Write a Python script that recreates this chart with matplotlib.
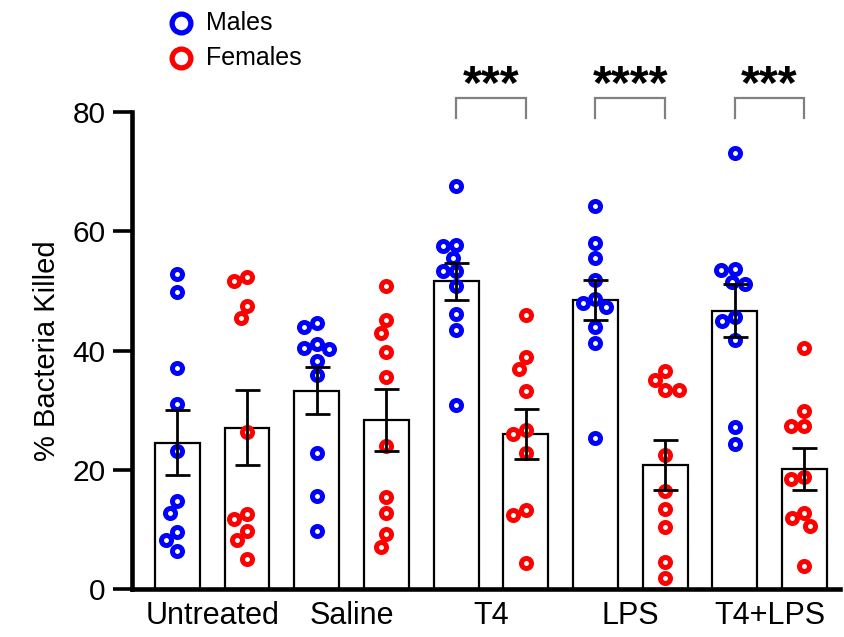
import numpy as np
import matplotlib
matplotlib.use("Agg")
import matplotlib.pyplot as plt

plt.rcParams['font.family'] = ['Liberation Sans', 'DejaVu Sans']

groups = ['Untreated', 'Saline', 'T4', 'LPS', 'T4+LPS']
males = [
    [52.9, 49.8, 37.0, 31.1, 23.2, 14.7, 12.8, 9.5, 8.3, 6.3],
    [44.0, 44.6, 41.1, 40.2, 40.4, 38.2, 35.9, 22.8, 15.6, 9.8],
    [67.6, 57.7, 57.5, 55.5, 53.3, 53.3, 50.9, 46.2, 43.4, 30.9],
    [64.2, 58.0, 55.5, 51.9, 48.0, 48.7, 47.3, 43.9, 41.2, 25.4],
    [73.1, 53.5, 53.7, 51.5, 51.2, 45.7, 44.9, 41.7, 27.1, 24.4],
]
females = [
    [51.6, 52.3, 47.4, 45.4, 26.4, 12.6, 11.8, 9.7, 8.2, 5.0],
    [50.8, 45.1, 43.0, 39.8, 35.5, 24.0, 15.5, 12.8, 9.2, 7.1],
    [45.9, 38.9, 36.9, 33.2, 26.0, 26.6, 22.8, 13.2, 12.4, 4.3],
    [35.1, 36.6, 33.3, 33.4, 22.5, 16.4, 13.5, 10.4, 4.5, 1.8],
    [40.4, 29.8, 27.4, 27.4, 18.8, 18.4, 11.9, 12.7, 10.6, 3.9],
]
stars = ['', '', '***', '****', '***']

W, H = 844, 637
fig = plt.figure(figsize=(W / 100, H / 100), dpi=100)
ax = fig.add_axes([132 / W, 48 / H, 708 / W, 477 / H])
ax.set_xlim(-0.65, 9.51)
ax.set_ylim(0, 80)

px_x = 708 / 10.16   # pixels per x unit
px_y = 477 / 80      # pixels per y unit


def swarm(vals, d=13.5):
    # greedy beeswarm, offsets in x data units
    order = np.argsort(-np.asarray(vals), kind='stable')
    placed = []
    offs = np.zeros(len(vals))
    for i in order:
        y = vals[i] * px_y
        cands = [0.0]
        for (xo, yo) in placed:
            dy = abs(y - yo)
            if dy < d:
                dx = np.sqrt(d * d - dy * dy)
                cands += [xo - dx, xo + dx]
        cands.sort(key=lambda c: (round(abs(c), 3), c))
        for c in cands:
            if all((c - xo) ** 2 + (y - yo) ** 2 >= d * d - 1e-6 for xo, yo in placed):
                break
        placed.append((c, y))
        offs[i] = c / px_x
    return offs


for g in range(len(groups)):
    for k, (vals, col) in enumerate([(males[g], '#0000ff'), (females[g], '#ff0000')]):
        xc = 2 * g + k
        v = np.array(vals)
        m = v.mean()
        sem = v.std(ddof=1) / np.sqrt(len(v))
        ax.bar(xc, m, width=0.645, color='white', edgecolor='black', linewidth=1.6, zorder=1)
        ax.scatter(xc + swarm(vals), v, s=52, facecolors='white', edgecolors=col,
                   linewidths=3.6, zorder=2)
        ax.errorbar(xc, m, yerr=sem, fmt='none', ecolor='black', elinewidth=2,
                    capsize=9, capthick=2, zorder=3)

for g, s in enumerate(stars):
    if not s:
        continue
    x0, x1 = 2 * g, 2 * g + 1
    ax.plot([x0, x0, x1, x1], [79.0, 82.3, 82.3, 79.0], color='#808080', lw=1.6,
            clip_on=False, solid_joinstyle='miter')
    ax.text((x0 + x1) / 2, 82.3, s, ha='center', va='baseline', fontsize=35,
            fontweight='bold', clip_on=False)

for sp in ['top', 'right']:
    ax.spines[sp].set_visible(False)
for sp in ['left', 'bottom']:
    ax.spines[sp].set_linewidth(3.3)

ax.set_yticks([0, 20, 40, 60, 80])
ax.tick_params(axis='y', length=14, width=2.6, labelsize=21.5, pad=5)
ax.set_xticks([2 * g + 0.5 for g in range(len(groups))])
ax.set_xticklabels(groups)
ax.tick_params(axis='x', length=0, labelsize=22, pad=9)
ax.set_ylabel('% Bacteria Killed', fontsize=21, labelpad=8)

# legend
for lab, col, yp in [('Males', '#0000ff', 22.5), ('Females', '#ff0000', 57.8)]:
    fig.add_artist(plt.Line2D([181 / W], [1 - yp / H], marker='o', markersize=13.5,
                              markerfacecolor='white', markeredgecolor=col,
                              markeredgewidth=3.8, transform=fig.transFigure))
    fig.text(206 / W, 1 - yp / H, lab, fontsize=18, va='center', ha='left')

fig.savefig('out.png', dpi=100)
